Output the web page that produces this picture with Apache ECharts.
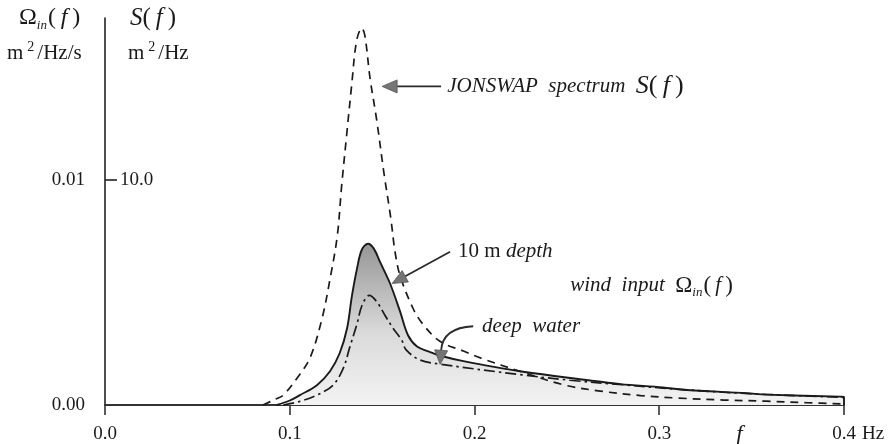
<!DOCTYPE html>
<html><head><meta charset="utf-8">
<script src="https://cdn.jsdelivr.net/npm/echarts@6/dist/echarts.min.js"></script>
<style>html,body{margin:0;padding:0;background:#fff}#c{width:889px;height:444px}</style>
</head><body><div id="c"></div>
<script>
// ---- data ----
const xTickValues = [0, 0.1, 0.2, 0.3, 0.4];
const windTickValues = [0, 0.01];      // left labels, m^2/Hz/s
const sTickValues = [10];              // inner labels, m^2/Hz

// JONSWAP spectrum S(f), m^2/Hz
const jonswapF = [0.0855,0.092,0.0965,0.104,0.111,0.1175,0.1218,0.1257,0.1281,0.1308,0.1335,0.1362,0.1390,0.1407,0.1435,0.147,0.151,0.1547,0.157,0.1597,0.1667,0.172,0.1813,0.194,0.2046,0.2246,0.248,0.268,0.29,0.31,0.335,0.358,0.38,0.40];
const jonswapS = [0,0.25,0.44,1.2,2.1,3.85,5.6,7.5,9.75,12.0,14.2,16.2,16.75,16.4,14.5,12.7,10.3,8.3,6.8,5.75,4.3,3.6,2.83,2.4,2.05,1.5,0.9,0.62,0.42,0.31,0.22,0.17,0.1,0.05];

// wind input, 10 m depth, m^2/Hz/s
const depthF = [0.093,0.1,0.1055,0.1147,0.1218,0.127,0.131,0.1337,0.1364,0.139,0.1424,0.1455,0.1488,0.1543,0.1597,0.164,0.1689,0.176,0.181,0.194,0.2246,0.266,0.279,0.302,0.313,0.3475,0.358,0.398,0.4,0.4];
const depthW = [0,0.0002,0.00044,0.00088,0.0015,0.0023,0.0034,0.00487,0.00606,0.0069,0.00717,0.00695,0.00637,0.0054,0.00416,0.0031,0.0026,0.00235,0.0022,0.00195,0.0015,0.00106,0.00093,0.00078,0.00068,0.00052,0.00046,0.00037,0.00036,0];

// wind input, deep water, m^2/Hz/s
const deepF = [0.0965,0.105,0.1147,0.1234,0.129,0.1326,0.1364,0.139,0.1430,0.147,0.1516,0.156,0.1606,0.163,0.1705,0.181,0.2246,0.2517,0.28,0.31,0.35,0.4];
const deepW = [0,0.00015,0.00044,0.00088,0.00164,0.0026,0.0036,0.0044,0.00487,0.0046,0.00398,0.0034,0.00288,0.00245,0.002,0.00182,0.00135,0.0011,0.0009,0.0007,0.0005,0.00034];

const SERIF = '"Liberation Serif","Times New Roman",serif';
const INK = '#1a1a1a';

const chart = echarts.init(document.getElementById('c'), null, {renderer:'canvas'});
const zip = (a,b)=>a.map((v,i)=>[v,b[i]]);

chart.setOption({
  animation:false,
  backgroundColor:'#fff',
  grid:{left:105,right:45,top:18,bottom:37,containLabel:false},
  xAxis:{type:'value',min:0,max:0.4,interval:0.1,
    axisLine:{show:true,lineStyle:{color:'#333',width:2.2}},
    axisTick:{show:true,length:10,lineStyle:{color:'#333',width:1.6}},
    axisLabel:{margin:20,fontFamily:SERIF,fontSize:19,color:INK,formatter:v=>v.toFixed(1),customValues:xTickValues},
    splitLine:{show:false}},
  yAxis:[
    {type:'value',min:0,max:0.0172,position:'left',
     axisLine:{show:true,onZero:false,lineStyle:{color:'#222',width:1.6}},
     axisTick:{show:false},
     axisLabel:{margin:20,fontFamily:SERIF,fontSize:19,color:INK,formatter:v=>v.toFixed(2),customValues:windTickValues},
     splitLine:{show:false}},
    {type:'value',min:0,max:17.2,position:'left',
     axisLine:{show:false},
     axisTick:{show:true,inside:true,length:12,lineStyle:{color:'#222',width:1.6},customValues:sTickValues},
     axisLabel:{inside:true,margin:15,fontFamily:SERIF,fontSize:19,color:INK,formatter:v=>v.toFixed(1),customValues:sTickValues},
     splitLine:{show:false}}
  ],
  series:[
    {type:'line',name:'10 m depth',yAxisIndex:0,data:zip(depthF,depthW),showSymbol:false,smooth:0.35,
     lineStyle:{color:INK,width:1.9},
     areaStyle:{color:new echarts.graphic.LinearGradient(0,0,0,1,[{offset:0,color:'#969696'},{offset:0.55,color:'#dadada'},{offset:1,color:'#f3f3f3'}]),opacity:1},
     z:2},
    {type:'line',name:'deep water',yAxisIndex:0,data:zip(deepF,deepW),showSymbol:false,smooth:0.35,
     lineStyle:{color:INK,width:1.7,type:[11,4,2.5,4]},z:3},
    {type:'line',name:'JONSWAP',yAxisIndex:1,data:zip(jonswapF,jonswapS),showSymbol:false,smooth:0.35,
     lineStyle:{color:INK,width:1.7,type:[8,6]},z:3}
  ]
});

// ---- annotations (anchored in data coordinates: [f, S]) ----
const P = p => chart.convertToPixel({xAxisIndex:0,yAxisIndex:1}, p);
function head(tip, from, len, hw){
  const dx=tip[0]-from[0], dy=tip[1]-from[1], L=Math.hypot(dx,dy), ux=dx/L, uy=dy/L;
  const bx=tip[0]-ux*len, by=tip[1]-uy*len;
  return {base:[bx,by], pts:[tip,[bx-uy*hw,by+ux*hw],[bx+uy*hw,by-ux*hw]]};
}
const g = [];
const arrowFill = '#757575';
function straightArrow(tailD, tipD){
  const t=P(tailD), p=P(tipD), h=head(p,t,15,6.5);
  g.push({type:'line',shape:{x1:t[0],y1:t[1],x2:h.base[0],y2:h.base[1]},style:{stroke:'#2a2a2a',lineWidth:1.8},z:10});
  g.push({type:'polygon',shape:{points:h.pts},style:{fill:arrowFill,stroke:'#555',lineWidth:0.8},z:10});
}
straightArrow([0.1819,14.16],[0.1500,14.16]);
straightArrow([0.1868,6.81],[0.1554,5.40]);
// curved arrow for deep water
(function(){
  const t=P([0.1993,3.50]), p=P([0.1814,1.81]);
  const base=[p[0]+1,p[1]-14];
  g.push({type:'bezierCurve',shape:{x1:t[0],y1:t[1],cpx1:t[0]-22,cpy1:t[1]+1,cpx2:base[0]+1,cpy2:base[1]-14,x2:base[0],y2:base[1]},style:{stroke:'#2a2a2a',lineWidth:1.8,fill:null},z:10});
  const h=head(p,base,14,6.5);
  g.push({type:'polygon',shape:{points:h.pts},style:{fill:arrowFill,stroke:'#555',lineWidth:0.8},z:10});
})();

function txt(pos, text, rich, extra){
  g.push(Object.assign({type:'text',x:pos[0],y:pos[1],z:11,
    style:{text:text,rich:rich,fill:INK,font:'20px '+SERIF,align:'left',verticalAlign:'middle'}},extra||{}));
}
const it = sz => ({fontFamily:SERIF,fontStyle:'italic',fontSize:sz,fill:INK,lineHeight:sz+4});
const up = sz => ({fontFamily:SERIF,fontSize:sz,fill:INK,lineHeight:sz+4});
const sub = sz => ({fontFamily:SERIF,fontStyle:'italic',fontSize:sz,fill:INK,lineHeight:sz+2,verticalAlign:'bottom',padding:[0,1,0,0]});
const sup = {fontFamily:SERIF,fontSize:14,fill:INK,verticalAlign:'top',lineHeight:24,padding:[0,3,0,4]};

// JONSWAP label
txt(P([0.1852,14.16]), '{i|JONSWAP  spectrum  }{S|S}{u|(}{S|\u2009f\u2009}{u|)}', {i:it(21),S:it(26),u:up(26)});
// 10 m depth
txt(P([0.1911,6.81]), '{u|10 m }{i|depth}', {u:up(21),i:it(21)});
// wind input
txt(P([0.2518,5.31]), '{i|wind  input  }{u|\u03A9}{s|in}{u|(}{i|\u2009f\u2009}{u|)}', {i:it(21),u:up(23),s:sub(13)});
// deep water
txt(P([0.2041,3.50]), '{i|deep  water}', {i:it(21)});

// axis titles (top-left)
txt([19,18], '{u|\u03A9}{s|in}{u|(}{i|\u2009f\u2009}{u|)}', {i:it(24),u:up(24),s:sub(13)});
txt([7,53], '{u|m}{sp|2}{u|/Hz/s}', {u:up(21),sp:sup});
txt([130,18], '{i|S}{u|(}{i|\u2009f\u2009}{u|)}', {i:it(25),u:up(25)});
txt([128,53], '{u|m}{sp|2}{u|/Hz}', {u:up(21),sp:sup});

// x-axis extras: "f" and "Hz"
const ax = P([0.3438,0]);
txt([ax[0]-4, ax[1]+30], '{i|f}', {i:it(23)});
const hz = P([0.4,0]);
txt([hz[0]+18, hz[1]+29], '{u|Hz}', {u:up(19)});

chart.setOption({graphic:g});
</script>
</body></html>
